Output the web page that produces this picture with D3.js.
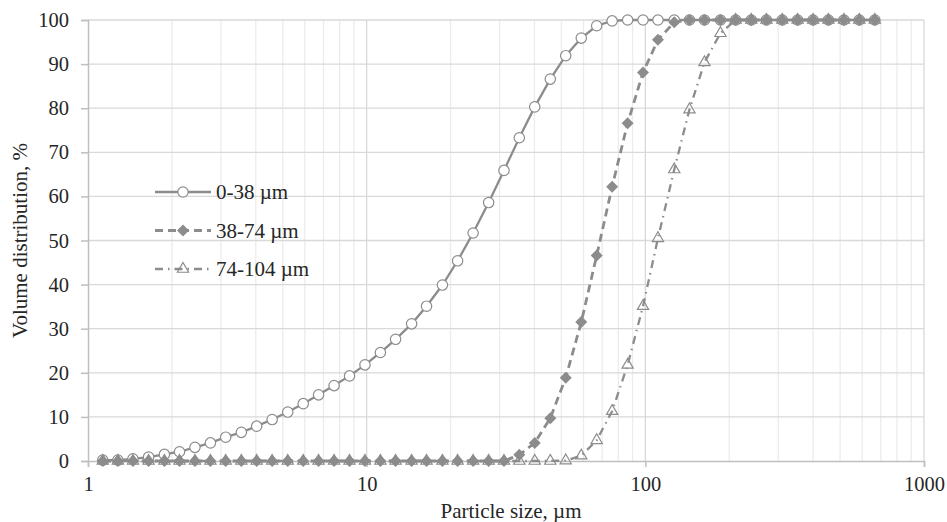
<!DOCTYPE html>
<html>
<head>
<meta charset="utf-8">
<script src="https://cdn.jsdelivr.net/npm/d3@7"></script>
<style>
  body { margin: 0; background: #fff; }
  svg text { font-family: "Liberation Serif", Tinos, "Times New Roman", "DejaVu Serif", serif; fill: #262626; }
</style>
</head>
<body>
<div id="visual"></div>
<script>
// particle size classes, um
const sizes = [1.13, 1.28, 1.45, 1.65, 1.88, 2.13, 2.42, 2.75, 3.12, 3.55,
  4.03, 4.58, 5.21, 5.92, 6.72, 7.64, 8.68, 9.86, 11.2, 12.7,
  14.5, 16.4, 18.7, 21.2, 24.1, 27.4, 31.1, 35.3, 40.1, 45.6,
  51.8, 58.9, 66.9, 76.0, 86.4, 98.1, 111, 127, 144, 163,
  186, 211, 240, 272, 310, 352, 400, 454, 516, 586, 666];

// cumulative volume, %
const fine = [0.2, 0.2, 0.5, 0.9, 1.5, 2.1, 3.1, 4.1, 5.4, 6.5,
  7.9, 9.4, 11.1, 13.0, 15.0, 17.1, 19.3, 21.8, 24.6, 27.6,
  31.1, 35.1, 39.9, 45.4, 51.7, 58.6, 65.9, 73.3, 80.3, 86.6,
  91.9, 95.9, 98.7, 99.8, 100, 100, 100, 100, 100, 100,
  100, 100, 100, 100, 100, 100, 100, 100, 100, 100, 100];
const medium = [0, 0, 0, 0, 0, 0, 0, 0, 0, 0,
  0, 0, 0, 0, 0, 0, 0, 0, 0, 0,
  0, 0, 0, 0, 0, 0, 0, 1.4, 4.1, 9.7,
  18.9, 31.5, 46.6, 62.2, 76.6, 88.1, 95.5, 99.5, 100, 100,
  100, 100, 100, 100, 100, 100, 100, 100, 100, 100, 100];
const coarse = [0, 0, 0, 0, 0, 0, 0, 0, 0, 0,
  0, 0, 0, 0, 0, 0, 0, 0, 0, 0,
  0, 0, 0, 0, 0, 0, 0, 0, 0, 0,
  0.1, 1.2, 4.7, 11.3, 21.8, 35.1, 50.5, 66.1, 79.7, 90.4,
  97.0, 100, 100, 100, 100, 100, 100, 100, 100, 100, 100];

const seriesNames = ["0-38 µm", "38-74 µm", "74-104 µm"];
const xTicks = [1, 10, 100, 1000];
const yTicks = [0, 10, 20, 30, 40, 50, 60, 70, 80, 90, 100];

const width = 947, height = 522;
const margin = {top: 20, right: 23, bottom: 61, left: 88};
const grey = "#8c8c8c";
const serif = "'Liberation Serif', Tinos, 'Times New Roman', 'DejaVu Serif', serif";

const svg = d3.select("#visual")
  .append("svg")
  .attr("width", width)
  .attr("height", height);

const x = d3.scaleLog().domain([1, 1000]).range([margin.left, width - margin.right]);
const y = d3.scaleLinear().domain([0, 100]).range([height - margin.bottom, margin.top]);

// grid
const minor = [];
[1, 10, 100].forEach(dec => { for (let k = 2; k <= 9; k++) minor.push(dec * k); });
svg.append("g").selectAll("line")
  .data(minor)
  .enter().append("line")
  .attr("x1", d => x(d)).attr("x2", d => x(d))
  .attr("y1", y(0)).attr("y2", y(100))
  .attr("stroke", "#ececec").attr("stroke-width", 1.3);
svg.append("g").selectAll("line")
  .data([10, 100, 1000])
  .enter().append("line")
  .attr("x1", d => x(d)).attr("x2", d => x(d))
  .attr("y1", y(0)).attr("y2", y(100))
  .attr("stroke", "#d9d9d9").attr("stroke-width", 1.3);
svg.append("g").selectAll("line")
  .data(yTicks.slice(1))
  .enter().append("line")
  .attr("x1", x(1)).attr("x2", x(1000))
  .attr("y1", d => y(d)).attr("y2", d => y(d))
  .attr("stroke", "#d9d9d9").attr("stroke-width", 1.3);

// axes
const xAxis = svg.append("g")
  .attr("transform", "translate(0," + y(0) + ")")
  .call(d3.axisBottom(x).tickValues(xTicks).tickFormat(d3.format("d")).tickSize(6).tickPadding(9));
const yAxis = svg.append("g")
  .attr("transform", "translate(" + x(1) + ",0)")
  .call(d3.axisLeft(y).tickValues(yTicks).tickSize(7).tickPadding(12));
[xAxis, yAxis].forEach(a => {
  a.attr("font-family", serif);
  a.select(".domain").attr("stroke", "#bfbfbf").attr("stroke-width", 1.5);
  a.selectAll(".tick line").attr("stroke", "#bfbfbf").attr("stroke-width", 1.5);
  a.selectAll(".tick text").style("font-size", "20.5px").attr("fill", "#262626");
});

svg.append("text")
  .attr("x", 511).attr("y", 518)
  .attr("text-anchor", "middle")
  .style("font-size", "21px")
  .text("Particle size, µm");
svg.append("text")
  .attr("transform", "translate(27," + ((y(0) + y(100)) / 2) + ") rotate(-90)")
  .attr("text-anchor", "middle")
  .style("font-size", "21px")
  .text("Volume distribution, %");

// series
const styles = [
  {values: fine, dash: null, width: 2.3, marker: "circle"},
  {values: medium, dash: "8,5", width: 2.8, marker: "diamond"},
  {values: coarse, dash: "8,5,1.5,5", width: 2.3, marker: "triangle"}
];

const line = d3.line().x(d => x(d[0])).y(d => y(d[1]));
const diamond = d3.symbol().type(d3.symbolSquare).size(72);
const triangle = d3.symbol().type(d3.symbolTriangle).size(55);

function drawMarker(g, kind) {
  if (kind === "circle") {
    g.append("circle").attr("r", 5.2).attr("fill", "#fff").attr("stroke", grey).attr("stroke-width", 1.2);
  } else if (kind === "diamond") {
    g.append("path").attr("d", diamond()).attr("transform", "rotate(45)").attr("fill", grey);
  } else {
    g.append("path").attr("d", triangle()).attr("fill", "none").attr("stroke", grey).attr("stroke-width", 1.2);
  }
}

styles.forEach(s => {
  const pts = sizes.map((d, i) => [d, s.values[i]]);
  svg.append("path")
    .datum(pts)
    .attr("d", line)
    .attr("fill", "none")
    .attr("stroke", grey)
    .attr("stroke-width", s.width)
    .attr("stroke-dasharray", s.dash);
  svg.append("g").selectAll("g")
    .data(pts)
    .enter().append("g")
    .attr("transform", d => "translate(" + x(d[0]) + "," + y(d[1]) + ")")
    .each(function() { drawMarker(d3.select(this), s.marker); });
});

// legend
const legend = svg.append("g").attr("transform", "translate(155,192)");
styles.forEach((s, i) => {
  const row = legend.append("g").attr("transform", "translate(0," + (i * 38.5) + ")");
  row.append("line")
    .attr("x1", 0).attr("x2", 56).attr("y1", 0).attr("y2", 0)
    .attr("stroke", grey).attr("stroke-width", s.width)
    .attr("stroke-dasharray", s.dash);
  const m = row.append("g").attr("transform", "translate(28,0)");
  drawMarker(m, s.marker);
  row.append("text")
    .attr("x", 61).attr("y", 7)
    .style("font-size", "21px")
    .text(seriesNames[i]);
});
</script>
</body>
</html>
